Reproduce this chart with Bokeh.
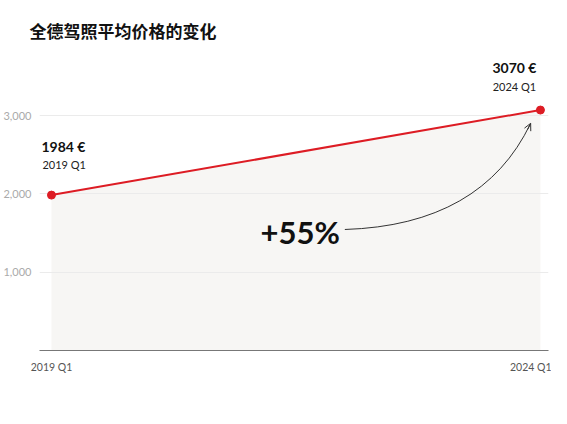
from bokeh.plotting import figure
from bokeh.models import (Range1d, FixedTicker, NumeralTickFormatter, Arrow,
                          OpenHead, ColumnDataSource)
from bokeh.core.properties import value
from bokeh.embed import file_html
from bokeh.resources import INLINE

# ---- data ----
title_text = "全德驾照平均价格的变化"
quarters = ["2019 Q1", "2024 Q1"]
quarter_index = [0, 20]
prices = [1984, 3070]
y_ticks = [1000, 2000, 3000]

RED = "#dd1c24"
FONT = "Lato"

p = figure(width=551, frame_height=305, output_backend="svg", toolbar_location=None,
           x_range=Range1d(-0.49, 20.33), y_range=Range1d(0, 3894),
           min_border_left=32, min_border_right=3, min_border_top=45,
           min_border_bottom=56, title=title_text)
p.outline_line_color = None
p.background_fill_color = "white"
p.border_fill_color = "white"

p.title.align = "left"
p.title.offset = -10
p.title.standoff = 6
p.title.text_font = "Noto Sans CJK SC"
p.title.text_font_style = "bold"
p.title.text_font_size = "17px"
p.title.text_color = "#111111"

# area under the line
p.varea(x=quarter_index, y1=[0, 0], y2=prices, fill_color="#f7f6f4", level="image")

# grid
p.xgrid.grid_line_color = None
p.ygrid.ticker = FixedTicker(ticks=y_ticks)
p.ygrid.grid_line_color = "#ebebeb"
p.ygrid.grid_line_width = 1

# axes
p.yaxis.ticker = FixedTicker(ticks=y_ticks)
p.yaxis.formatter = NumeralTickFormatter(format="0,0")
p.yaxis.axis_line_color = None
p.yaxis.major_tick_line_color = None
p.yaxis.minor_tick_line_color = None
p.yaxis.major_label_standoff = 2
p.yaxis.major_label_text_font = FONT
p.yaxis.major_label_text_font_size = "11px"
p.yaxis.major_label_text_color = "#aaaaaa"

p.xaxis.ticker = FixedTicker(ticks=quarter_index)
p.xaxis.major_label_overrides = {i: q for i, q in zip(quarter_index, quarters)}
p.xaxis.axis_line_color = "#777777"
p.xaxis.axis_line_width = 1.2
p.xaxis.major_tick_line_color = None
p.xaxis.minor_tick_line_color = None
p.xaxis.major_label_standoff = 4
p.xaxis.major_label_text_font = FONT
p.xaxis.major_label_text_font_size = "10.5px"
p.xaxis.major_label_text_color = "#555555"

# line + points
p.line(quarter_index, prices, line_color=RED, line_width=2)
p.scatter(quarter_index, prices, size=8, fill_color=RED, line_color=RED)

# value labels
val_txt = [f"{v} €" for v in prices]
src_l = ColumnDataSource(dict(x=[quarter_index[0]], y=[prices[0]], t=[val_txt[0]], q=[quarters[0]]))
src_r = ColumnDataSource(dict(x=[quarter_index[1]], y=[prices[1]], t=[val_txt[1]], q=[quarters[1]]))

p.text(x="x", y="y", text="t", source=src_l, x_offset=-10, y_offset=-49,
       text_align="left", text_baseline="middle", text_font=value(FONT),
       text_font_style="bold", text_font_size="14px", text_color="#111111")
p.text(x="x", y="y", text="q", source=src_l, x_offset=-9, y_offset=-31,
       text_align="left", text_baseline="middle", text_font=value(FONT),
       text_font_size="11px", text_color="#222222")
p.text(x="x", y="y", text="t", source=src_r, x_offset=-26, y_offset=-43,
       text_align="center", text_baseline="middle", text_font=value(FONT),
       text_font_style="bold", text_font_size="14px", text_color="#111111")
p.text(x="x", y="y", text="q", source=src_r, x_offset=-26, y_offset=-24,
       text_align="center", text_baseline="middle", text_font=value(FONT),
       text_font_size="11px", text_color="#222222")

# percentage change + curved arrow
pct = round((prices[1] / prices[0] - 1) * 100)
ax0, ay0 = 12.0, 1545
acx, acy = 17.6, 1600
ax1, ay1 = quarter_index[1] - 0.4, prices[1] - 170
p.quadratic(x0=[ax0], y0=[ay0], x1=[ax1], y1=[ay1], cx=[acx], cy=[acy],
            line_color="#333333", line_width=1)
f = 0.06
p.add_layout(Arrow(end=OpenHead(size=7, line_color="#333333", line_width=1),
                   x_start=ax1 - f * (ax1 - acx), y_start=ay1 - f * (ay1 - acy),
                   x_end=ax1, y_end=ay1, line_color="#333333", line_width=1))
p.text(x=[ax0], y=[ay0], text=[f"+{pct}%"], x_offset=-5, y_offset=3,
       text_align="right", text_baseline="middle", text_font=value(FONT),
       text_font_style="bold", text_font_size="31px", text_color="#111111")

open("out.html", "w").write(file_html(p, INLINE))
